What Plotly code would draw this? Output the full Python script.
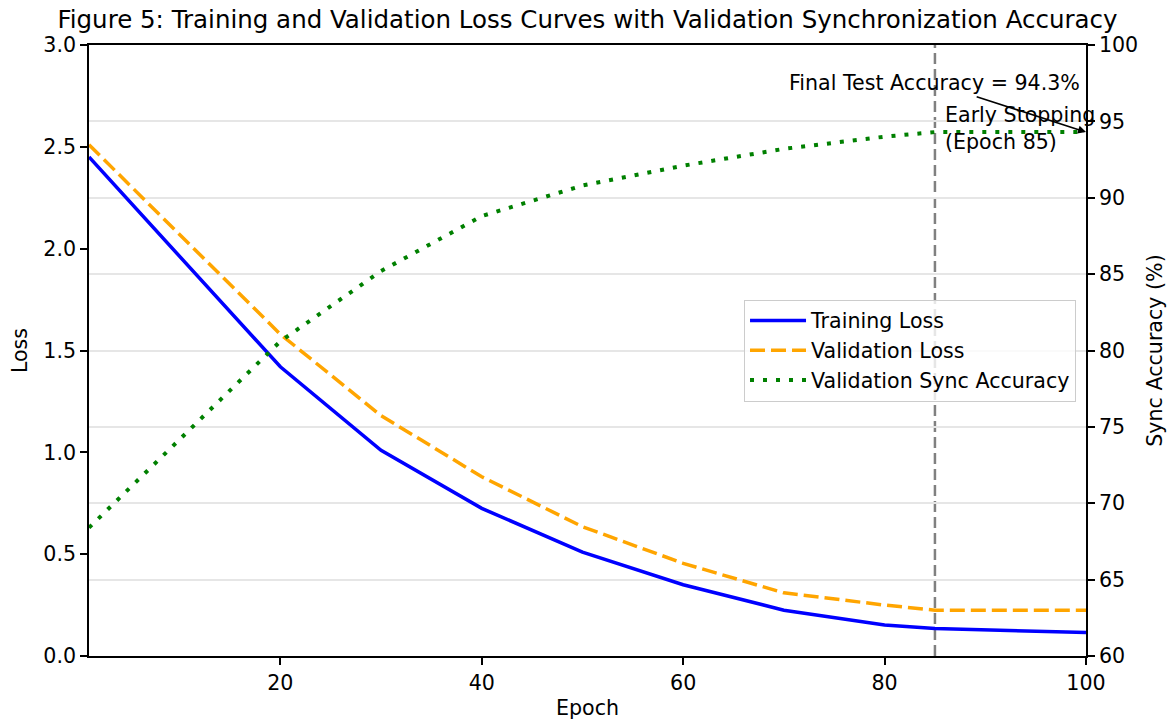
import plotly.graph_objects as go

epochs = [1, 20, 30, 40, 50, 60, 70, 80, 85, 100]
train_loss = [2.45, 1.42, 1.01, 0.725, 0.51, 0.35, 0.225, 0.152, 0.135, 0.115]
val_loss = [2.51, 1.58, 1.18, 0.88, 0.635, 0.455, 0.31, 0.25, 0.225, 0.225]
val_acc = [68.4, 80.6, 85.2, 88.8, 90.8, 92.1, 93.2, 94.0, 94.3, 94.3]

x_ticks = [20, 40, 60, 80, 100]
loss_ticks = [0.0, 0.5, 1.0, 1.5, 2.0, 2.5, 3.0]
acc_ticks = [60, 65, 70, 75, 80, 85, 90, 95, 100]

early_stop_epoch = 85
final_test_acc = 94.3

FONT = "DejaVu Sans"
FS = 20.6

fig = go.Figure()
fig.add_trace(go.Scatter(x=epochs, y=train_loss, mode="lines", name="Training Loss",
                         line=dict(color="#0000FF", width=3.5)))
fig.add_trace(go.Scatter(x=epochs, y=val_loss, mode="lines", name="Validation Loss",
                         line=dict(color="#FFA500", width=3.5, dash="15px,6px")))
fig.add_trace(go.Scatter(x=epochs, y=val_acc, mode="lines", name="Validation Sync Accuracy",
                         yaxis="y2", line=dict(color="#008000", width=4, dash="4px,9px")))

fig.add_shape(type="line", x0=early_stop_epoch, x1=early_stop_epoch, xref="x",
              y0=0, y1=1, yref="paper", line=dict(color="#808080", width=2.5, dash="11px,5px"),
              layer="between")

fig.add_annotation(x=100, y=final_test_acc, xref="x", yref="y2",
                   ax=85, ay=97.5, axref="x", ayref="y2",
                   text=f"Final Test Accuracy = {final_test_acc}%",
                   showarrow=True, arrowhead=2, arrowsize=1, arrowwidth=1.6, arrowcolor="black",
                   font=dict(family=FONT, size=FS, color="black"))
fig.add_annotation(x=85.8, y=2.59, xref="x", yref="y",
                   text=f"Early Stopping<br>(Epoch {early_stop_epoch})", showarrow=False,
                   xanchor="left", yanchor="middle", align="left",
                   font=dict(family=FONT, size=FS, color="black"))

axis_common = dict(showline=True, linecolor="black", linewidth=1.6,
                   ticks="outside", ticklen=7, tickwidth=1.6, tickcolor="black",
                   tickfont=dict(family=FONT, size=FS, color="black"),
                   zeroline=False, automargin=False)

fig.update_layout(
    width=1173, height=720,
    margin=dict(l=89, r=87, t=45, b=64),
    paper_bgcolor="white", plot_bgcolor="white",
    font=dict(family=FONT, size=FS, color="black"),
    title=dict(text="Figure 5: Training and Validation Loss Curves with Validation Synchronization Accuracy",
               x=0.5, xref="paper", xanchor="center", y=0.9735, yref="container", yanchor="middle",
               font=dict(family=FONT, size=24.5, color="black")),
    xaxis=dict(range=[1, 100], tickvals=x_ticks, showgrid=False, mirror=True,
               title=dict(text="Epoch", font=dict(family=FONT, size=FS), standoff=8),
               **axis_common),
    yaxis=dict(range=[0, 3.0], tickvals=loss_ticks, tickformat=".1f", showgrid=False,
               title=dict(text="Loss", font=dict(family=FONT, size=FS), standoff=10),
               **axis_common),
    yaxis2=dict(range=[60, 100], tickvals=acc_ticks, overlaying="y", side="right",
                showgrid=True, gridcolor="#e6e6e6", gridwidth=1.6,
                title=dict(text="Sync Accuracy (%)", font=dict(family=FONT, size=FS), standoff=10),
                **axis_common),
    legend=dict(x=0.99, xanchor="right", y=0.5, yanchor="middle", itemwidth=56,
                bgcolor="rgba(255,255,255,0.8)", bordercolor="#cccccc", borderwidth=1,
                font=dict(family=FONT, size=FS, color="black")),
)

fig.write_html("out.html")
